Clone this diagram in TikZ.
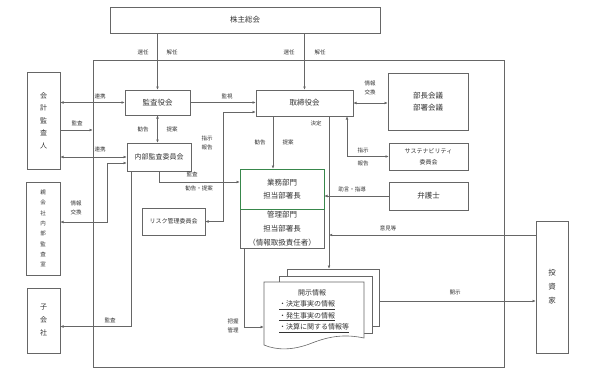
\documentclass[tikz,border=0pt]{standalone}
\usepackage{fontspec}
\newfontfamily\jp{Noto Sans CJK JP}
\usetikzlibrary{arrows.meta,calc}
\definecolor{grn}{RGB}{56,135,75}

\begin{document}
\begin{tikzpicture}[
  x=1pt, y=-1pt,
  >={Latex[length=3.2pt,width=2.8pt]},
  every node/.style={font=\jp, text=black!80},
  box/.style={draw=black!60, line width=0.6pt, inner sep=1pt, align=center,
    font=\jp\fontsize{7.5}{12.5}\selectfont},
  tate/.style={box, font=\jp\fontsize{7}{12.5}\selectfont},
  lbl/.style={font=\jp\fontsize{5.5}{9}\selectfont, align=center, inner sep=0pt},
  conn/.style={draw=black!60, line width=0.6pt},
]
\useasboundingbox (0,0) rectangle (592,375);

% Company frame
\node[draw=black!60, line width=0.6pt, minimum width=411pt, minimum height=307pt] (frame) at (298.5,213.5) {};

% Boxes
\node[box, minimum width=270pt, minimum height=26pt] (agm) at (245,20) {株主総会};
\node[box, minimum width=65pt, minimum height=25pt] (kansa) at (157.5,102.5) {監査役会};
\node[box, minimum width=97pt, minimum height=26pt] (tori) at (304.5,103) {取締役会};
\node[box, minimum width=64pt, minimum height=28pt, font=\jp\fontsize{7}{12}\selectfont] (naibu) at (159,157) {内部監査委員会};
\node[box, minimum width=84pt, minimum height=39pt, font=\jp\fontsize{7.5}{14}\selectfont] (kanri) at (282,228.5) {管理部門\\担当部署長\\（情報取扱責任者）};
\node[box, draw=grn, minimum width=84pt, minimum height=40pt] (gyomu) at (282,189) {業務部門\\担当部署長};
\node[box, minimum width=63pt, minimum height=27pt, font=\jp\fontsize{6}{10}\selectfont] (risk) at (173.5,221.5) {リスク管理委員会};
\node[box, minimum width=80pt, minimum height=57pt] (bucho) at (428,101.5) {部長会議\\部署会議};
\node[box, minimum width=79pt, minimum height=27pt, font=\jp\fontsize{6}{11}\selectfont] (sus) at (428.5,156.5) {サステナビリティ\\委員会};
\node[box, minimum width=79pt, minimum height=28pt] (bengo) at (428.5,196) {弁護士};

% Outside parties (vertical text)
\node[tate, minimum width=32pt, minimum height=132pt, font=\jp\fontsize{7.5}{14}\selectfont] (toshi) at (552,287) {投\\資\\家};
\node[tate, minimum width=33pt, minimum height=97pt] (kaikei) at (43.5,120.5) {会\\計\\監\\査\\人};
\node[tate, minimum width=34pt, minimum height=93pt, font=\jp\fontsize{5.5}{10.3}\selectfont] (oya) at (43,228.5) {親\\会\\社\\内\\部\\監\\査\\室};
\node[tate, minimum width=33pt, minimum height=65pt, font=\jp\fontsize{7}{13}\selectfont] (ko) at (43.5,320.5) {子\\会\\社};

% Disclosure documents
\node[box, fill=white, minimum width=92pt, minimum height=57pt] (doc3) at (333,297.5) {};
\node[box, fill=white, minimum width=93pt, minimum height=57pt] (doc2) at (325.5,304.5) {};
\filldraw[conn, fill=white] (264,282) -- (364,282) -- (364,338)
  .. controls (345,334) and (330,336) .. (312,343)
  .. controls (292,351) and (276,350) .. (264,345) -- cycle;
\node[font=\jp\fontsize{7}{11.5}\selectfont, align=left, minimum width=100pt] (doc) at (314,311)
  {\hspace*{19pt}開示情報\\\underline{・決定事実の情報}\\\underline{・発生事実の情報}\\\underline{・決算に関する情報等}};

% Shareholders meeting
\draw[conn, ->] (kansa.north |- agm.south) -- (kansa.north);
\draw[conn, ->] (tori.north |- agm.south) -- (tori.north);
\node[lbl] (l-sen1) at (143,52) {選任};
\node[lbl] (l-kai1) at (172,52) {解任};
\node[lbl] (l-sen2) at (289,52) {選任};
\node[lbl] (l-kai2) at (320,52) {解任};

% Audit
\draw[conn, ->] (kansa.east) -- (kansa.east -| tori.west);
\node[lbl] (l-kanshi) at (227,96) {監視};
\draw[conn, <->] (kaikei.east |- kansa.west) -- (kansa.west);
\node[lbl] (l-renkei1) at (100,96) {連携};
\coordinate (kk) at ([yshift=-9.5pt]kaikei.east);
\draw[conn, ->] (kk) -- (kk -| frame.west);
\node[lbl] (l-kansa1) at (77,123) {監査};
\draw[conn, <->] (kaikei.east |- naibu.west) -- (naibu.west);
\node[lbl] (l-renkei2) at (100,149) {連携};
\draw[conn, <->] ([yshift=-6pt]naibu.west) -- ++(-19,0) |- ([yshift=6.5pt]oya.east);
\node[lbl] (l-joho1) at (76,207.5) {情報\\交換};
\draw[conn, <->] (kansa.south) -- (kansa.south |- naibu.north);
\node[lbl] (l-kankoku1) at (143,129) {勧告};
\node[lbl] (l-teian1) at (172,129) {提案};
\draw[conn, ->] ([xshift=5pt]naibu.south west) |- ([yshift=-6pt]ko.east);
\node[lbl] (l-kansa2) at (110,320) {監査};
\draw[conn, ->] (naibu.south) |- ([yshift=7pt]gyomu.west);
\node[lbl] (l-kansa3) at (192,174) {監査};
\node[lbl] (l-kt) at (199,188) {勧告・提案};

% Board
\draw[conn, <->] ([yshift=-9pt]tori.west) -- ++(-32,0) |- (risk.east);
\node[lbl] (l-shiji1) at (207,142.5) {指示\\報告};
\coordinate (g1) at ([xshift=-9pt]gyomu.north);
\draw[conn, ->] (g1 |- tori.south) -- (g1);
\node[lbl] (l-kankoku2) at (260,142) {勧告};
\node[lbl] (l-teian2) at (288,142) {提案};
\coordinate (d1) at ([xshift=-4pt]doc3.north);
\draw[conn, ->] (d1 |- tori.south) -- (d1);
\node[lbl] (l-kettei) at (316,123) {決定};
\draw[conn, <->] ([xshift=42.5pt]tori.south) |- (sus.west);
\node[lbl] (l-shiji2) at (363,150) {指示};
\node[lbl] (l-hokoku2) at (363,163) {報告};
\draw[conn, <->] (tori.east) -- (tori.east -| bucho.west);
\node[lbl] (l-joho2) at (370,87.5) {情報\\交換};
\draw[conn, ->] (bengo.west) -- (bengo.west -| gyomu.east);
\node[lbl] (l-jogen) at (352,189) {助言・指導};

% Disclosure
\coordinate (t1) at ([yshift=52pt]toshi.west);
\draw[conn, ->] (t1) -- (t1 -| d1);
\node[lbl] (l-iken) at (388,228) {意見等};
\coordinate (t2) at ([yshift=-3.5pt]doc3.east);
\draw[conn, ->] (t2) -- (t2 -| toshi.west);
\node[lbl] (l-kaiji) at (455,293) {開示};
\draw[conn, ->] ([xshift=5pt]kanri.south west) |- ([yshift=-16pt]doc.west);
\node[lbl] (l-haaku) at (233,326) {把握\\管理};
\end{tikzpicture}
\end{document}
